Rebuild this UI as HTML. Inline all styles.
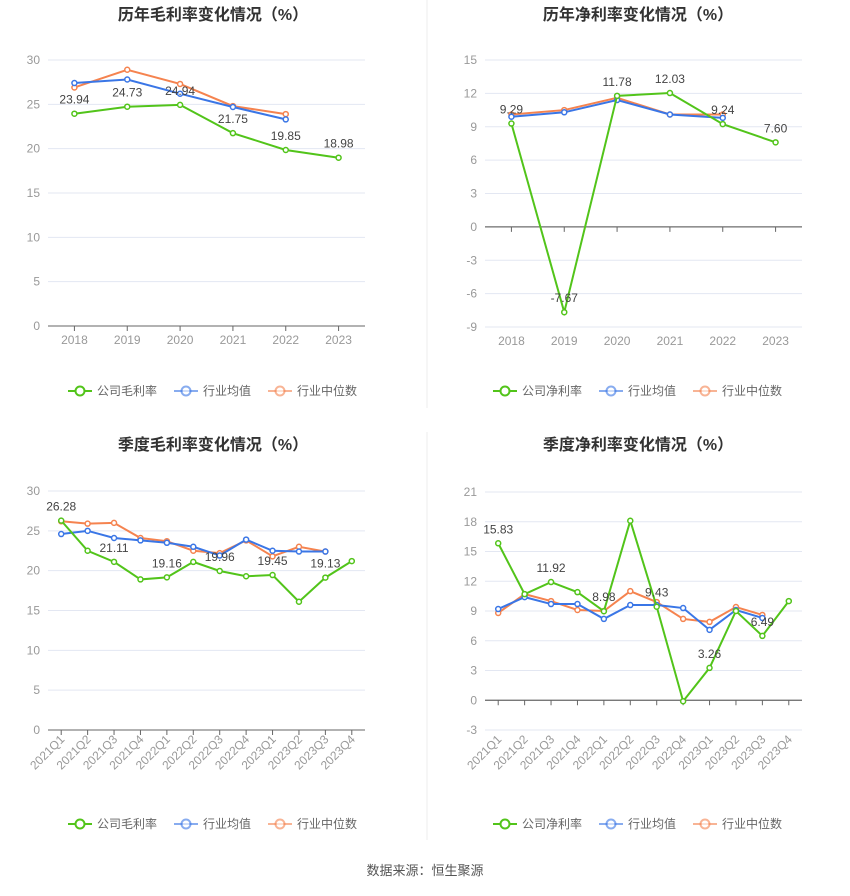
<!DOCTYPE html>
<html><head><meta charset="utf-8"><style>
body{margin:0;background:#fff;font-family:"Liberation Sans","Noto Sans CJK SC",sans-serif;}
svg text{font-family:"Liberation Sans","Noto Sans CJK SC",sans-serif;}
</style></head><body>
<svg id="s" width="850" height="891">
<line x1="427" y1="0" x2="427" y2="408" stroke="#eee"/>
<line x1="427" y1="432" x2="427" y2="840" stroke="#eee"/>
<text x="425" y="875" font-size="13" fill="#555" text-anchor="middle">数据来源：恒生聚源</text>
</svg>
<script>
const yearCats=["2018","2019","2020","2021","2022","2023"];
const qCats=["2021Q1","2021Q2","2021Q3","2021Q4","2022Q1","2022Q2","2022Q3","2022Q4","2023Q1","2023Q2","2023Q3","2023Q4"];
const c1Company=[23.94,24.73,24.94,21.75,19.85,18.98];
const c1Avg=[27.4,27.8,26.2,24.7,23.3];
const c1Median=[26.9,28.9,27.3,24.8,23.9];
const c1Ticks=[0,5,10,15,20,25,30];
const c2Company=[9.29,-7.67,11.78,12.03,9.24,7.60];
const c2Avg=[9.9,10.3,11.4,10.1,9.8];
const c2Median=[10.1,10.5,11.6,10.1,10.1];
const c2Ticks=[-9,-6,-3,0,3,6,9,12,15];
const c3Company=[26.28,22.5,21.11,18.9,19.16,21.1,19.96,19.3,19.45,16.1,19.13,21.2];
const c3Avg=[24.6,25.0,24.1,23.8,23.5,23.0,21.9,23.9,22.5,22.4,22.4];
const c3Median=[26.2,25.9,26.0,24.1,23.7,22.5,22.2,23.8,21.8,23.0,22.4];
const c3Ticks=[0,5,10,15,20,25,30];
const c4Company=[15.83,10.7,11.92,10.9,8.98,18.1,9.43,-0.1,3.26,9.0,6.49,10.0];
const c4Avg=[9.2,10.4,9.7,9.7,8.2,9.6,9.6,9.3,7.1,9.1,8.3];
const c4Median=[8.8,10.7,10.0,9.1,9.0,11.0,9.9,8.2,7.9,9.4,8.6];
const c4Ticks=[-3,0,3,6,9,12,15,18,21];

const NS="http://www.w3.org/2000/svg",S=document.getElementById('s');
function mk(t,a,p){const e=document.createElementNS(NS,t);for(const k in a)e.setAttribute(k,a[k]);(p||S).appendChild(e);return e;}
const G="#52c41a",B="#3a76e6",O="#f5834f";
function chart(o){
 const g=mk('g',{});
 
 
 const tt=mk('text',{x:o.cx,y:o.ty,'font-size':16,'font-weight':'bold',fill:'#333','text-anchor':'middle'},g);tt.textContent=o.title;
 
 
 const lo=o.ticks[0],hi=o.ticks[o.ticks.length-1];
 const Y=v=>o.yb-(v-lo)/(hi-lo)*(o.yb-o.yt);
 const n=o.cats.length,step=(o.x1-o.x0)/n;
 const X=i=>o.x0+step*(i+0.5);
 o.ticks.forEach(t=>{
  const l=mk('line',{x1:o.x0,x2:o.x1,y1:Y(t),y2:Y(t),stroke:t===0?'#666':'#e3e7f2'},g);
  
  
  const tx=mk('text',{x:o.x0-8,y:Y(t)+4,'font-size':12,fill:'#999','text-anchor':'end'},g);tx.textContent=t;
  
  
 });
 const yz=Y(Math.max(0,lo));
 mk('line',{x1:o.x0,x2:o.x1,y1:yz,y2:yz,stroke:'#666'},g);
 o.cats.forEach((c,i)=>{
  mk('line',{x1:X(i),x2:X(i),y1:yz,y2:yz+5,stroke:'#666'},g);
  let tx;
  if(o.rot){tx=mk('text',{x:X(i)+4,y:o.yb+10,'font-size':12,fill:'#999','text-anchor':'end',transform:`rotate(-45 ${X(i)+4} ${o.yb+10})`},g);}
  else tx=mk('text',{x:X(i),y:o.yb+18,'font-size':12,fill:'#999','text-anchor':'middle'},g);
  tx.textContent=c;
  
  
 });
 [[o.med,O,'median-line'],[o.avg,B,'average-line'],[o.comp,G,'company-line']].forEach(([d,col,nm])=>{
  const p=mk('polyline',{points:d.map((v,i)=>X(i)+','+Y(v)).join(' '),fill:'none',stroke:col,'stroke-width':2},g);
  
  
  d.forEach((v,i)=>{const c=mk('circle',{cx:X(i),cy:Y(v),r:2.5,fill:'#fff',stroke:col,'stroke-width':1.5},g);
   
   });
 });
 o.comp.forEach((v,i)=>{if(o.rot&&i%2)return;if(o.rot&&i===11)return;
  const t=mk('text',{x:X(i),y:Y(v)-10,'font-size':12,fill:'#444','text-anchor':'middle'},g);
  t.textContent=v.toFixed(2);
  
  });
 const leg=[[o.ln,G],["行业均值",B],["行业中位数",O]];let lx=o.cx-145;
 leg.forEach(([s,col],k)=>{
  const lg=mk('g',{},g);
  
  
  mk('line',{x1:lx,x2:lx+24,y1:o.ly,y2:o.ly,stroke:col,'stroke-width':2,opacity:k?0.6:1},lg);
  mk('circle',{cx:lx+12,cy:o.ly,r:4.5,fill:'#fff',stroke:col,'stroke-width':2,opacity:k?0.6:1},lg);
  const t=mk('text',{x:lx+29,y:o.ly+4,'font-size':12,fill:'#666'},lg);t.textContent=s;
  lx+=k===0?106:94;
 });
}
chart({name:'annual-gross-margin-chart',title:'历年毛利率变化情况（%）',ty:20,cx:213,x0:48,x1:365,yt:60,yb:326,cats:yearCats,ticks:c1Ticks,comp:c1Company,avg:c1Avg,med:c1Median,ln:'公司毛利率',ly:391});
chart({name:'annual-net-margin-chart',title:'历年净利率变化情况（%）',ty:20,cx:638,x0:485,x1:802,yt:60,yb:327,cats:yearCats,ticks:c2Ticks,comp:c2Company,avg:c2Avg,med:c2Median,ln:'公司净利率',ly:391});
chart({name:'quarterly-gross-margin-chart',title:'季度毛利率变化情况（%）',ty:450,cx:213,x0:48,x1:365,yt:491,yb:730,cats:qCats,ticks:c3Ticks,comp:c3Company,avg:c3Avg,med:c3Median,ln:'公司毛利率',ly:824,rot:1});
chart({name:'quarterly-net-margin-chart',title:'季度净利率变化情况（%）',ty:450,cx:638,x0:485,x1:802,yt:492,yb:730,cats:qCats,ticks:c4Ticks,comp:c4Company,avg:c4Avg,med:c4Median,ln:'公司净利率',ly:824,rot:1});
</script>
</body></html>
